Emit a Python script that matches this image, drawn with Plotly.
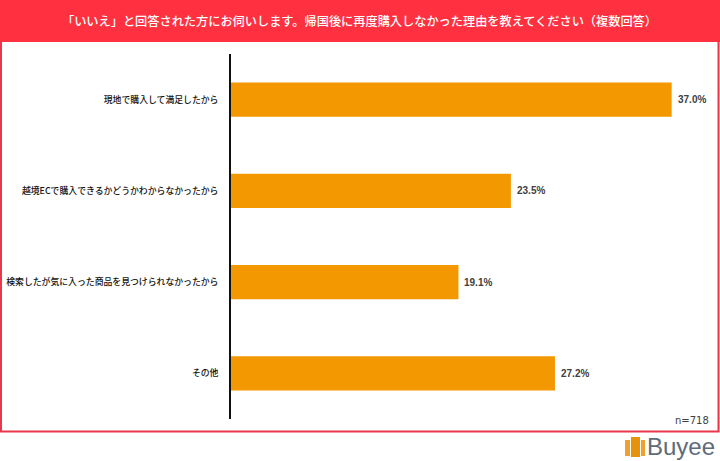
import plotly.graph_objects as go

categories = ["現地で購入して満足したから", "越境ECで購入できるかどうかわからなかったから",
              "検索したが気に入った商品を見つけられなかったから", "その他"]
values = [37.0, 23.5, 19.1, 27.2]
title_text = "「いいえ」と回答された方にお伺いします。帰国後に再度購入しなかった理由を教えてください（複数回答）"
sample_text = "n=718"
logo_text = "Buyee"

W, H = 720, 461
L, R, T, B = 231, 12, 54, 42
FONT = "Noto Sans CJK JP"
RED = "#FF3140"
ORANGE = "#F39800"

fig = go.Figure(go.Bar(
    y=categories, x=values, orientation="h",
    marker=dict(color=ORANGE, line=dict(width=0)),
    hoverinfo="skip",
))

def px(x): return (x - L) / (W - L - R)
def py(y): return 1 - (y - T) / (H - T - B)

def box(x0, x1, y0, y1, **kw):
    return dict(type="rect", xref="paper", yref="paper", x0=px(x0), x1=px(x1), y0=py(y0), y1=py(y1), **kw)

shapes = [
    box(1, 718.5, 1, 431.5, line=dict(color="#E8384A", width=2), fillcolor="rgba(0,0,0,0)", layer="below"),
    box(0, 720, 0, 42, line=dict(width=0), fillcolor=RED, layer="below"),
    box(625, 630, 440, 456, line=dict(width=0), fillcolor="#F0A030"),
    box(631, 640, 437, 457, line=dict(width=0), fillcolor="#E8920C"),
    box(641, 645, 440, 456, line=dict(width=0), fillcolor="#F0A030"),
]

annotations = [
    dict(text=title_text, xref="paper", yref="paper", x=px(359.5), y=py(21), showarrow=False,
         xanchor="center", yanchor="middle", font=dict(family=FONT, size=12.2, color="white", weight=500)),
    dict(text=sample_text, xref="paper", yref="paper", x=px(711), y=py(420), showarrow=False,
         xanchor="right", yanchor="middle", font=dict(family="DejaVu Sans", size=10, color="#404040")),
    dict(text=logo_text, xref="paper", yref="paper", x=px(645), y=py(446), showarrow=False,
         xanchor="left", yanchor="middle", font=dict(family="Liberation Sans", size=24, color="#5F6B78")),
]
for c, v in zip(categories, values):
    annotations.append(dict(
        text=f"{v:.1f}%", x=v, y=c, xref="x", yref="y", xanchor="left", yanchor="middle",
        showarrow=False, xshift=4, font=dict(family="Liberation Sans", size=10, color="#404040", weight="bold"),
    ))

fig.update_layout(
    width=W, height=H, autosize=False, showlegend=False,
    margin=dict(l=L, r=R, t=T, b=B, pad=0),
    paper_bgcolor="white", plot_bgcolor="white",
    bargap=0.627, shapes=shapes, annotations=annotations,
    xaxis=dict(range=[0, 40.05], visible=False),
    yaxis=dict(autorange="reversed", automargin=False, showgrid=False, zeroline=False, showline=True,
               linecolor="#111111", linewidth=1.5, ticks="", ticklabelstandoff=9,
               tickfont=dict(family=FONT, size=8.85, color="#111111", weight=500)),
)

fig.write_html("out.html", post_script="document.body.style.margin='0';", config=dict(displayModeBar=False))
